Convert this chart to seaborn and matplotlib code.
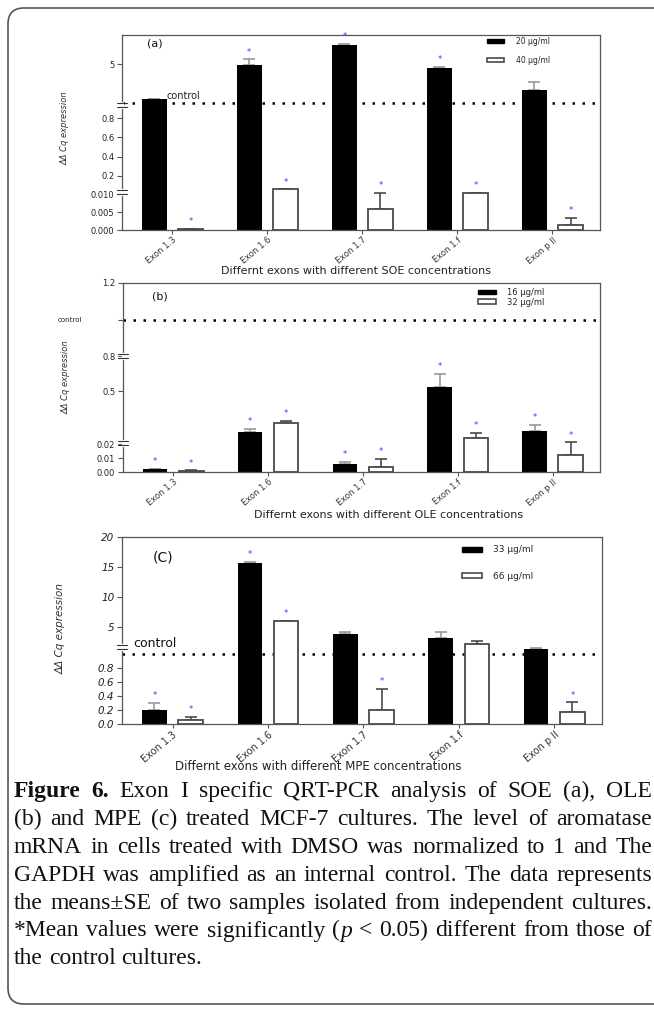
import numpy as np
import pandas as pd
import matplotlib
matplotlib.use("Agg")
import matplotlib.pyplot as plt
import seaborn as sns
from matplotlib.patches import Patch, FancyBboxPatch
from matplotlib.transforms import IdentityTransform

# ---------------- data ----------------
exons = ["Exon 1.3", "Exon 1.6", "Exon 1.7", "Exon 1.f", "Exon p II"]

soe_conc = ["20 µg/ml", "40 µg/ml"]
soe_20 = [1.4, 4.9, 7.0, 4.6, 2.35]
soe_20_se = [0.05, 0.6, 0.08, 0.1, 0.8]
soe_40 = [0.0002, 0.06, 0.0058, 0.0103, 0.0014]
soe_40_se = [0.0001, 0.001, 0.0045, 0.0002, 0.0019]
soe_20_sig = [False, True, True, True, False]
soe_40_sig = [True, True, True, True, True]

ole_conc = ["16 µg/ml", "32 µg/ml"]
ole_16 = [0.002, 0.156, 0.0057, 0.538, 0.165]
ole_16_se = [0.0003, 0.026, 0.0015, 0.11, 0.05]
ole_32 = [0.0008, 0.233, 0.0036, 0.105, 0.0121]
ole_32_se = [0.0003, 0.02, 0.0057, 0.043, 0.0095]
ole_16_sig = [True, True, True, True, True]
ole_32_sig = [True, True, True, True, True]

mpe_conc = ["33 µg/ml", "66 µg/ml"]
mpe_33 = [0.2, 15.7, 3.95, 3.26, 1.07]
mpe_33_se = [0.1, 0.2, 0.25, 1.0, 0.01]
mpe_66 = [0.06, 6.08, 0.2, 2.26, 0.17]
mpe_66_se = [0.04, 0.05, 0.3, 0.5, 0.14]
mpe_33_sig = [True, True, False, False, False]
mpe_66_sig = [True, True, True, False, True]

soe_ticks = [0, 0.005, 0.010, 0.2, 0.4, 0.6, 0.8, 5]
soe_ticklabels = ["0.000", "0.005", "0.010", "0.2", "0.4", "0.6", "0.8", "5"]
ole_ticks = [0, 0.01, 0.02, 0.5, 0.8, 1.0, 1.2]
ole_ticklabels = ["0.00", "0.01", "0.02", "0.5", "0.8", "", "1.2"]
mpe_ticks = [0, 0.2, 0.4, 0.6, 0.8, 5, 10, 15, 20]
mpe_ticklabels = ["0.0", "0.2", "0.4", "0.6", "0.8", "5", "10", "15", "20"]

# broken-axis segments: value knots -> relative pixel height
soe_knots_v = [0, 0.0105, 0.04, 0.924, 0.95, 8.0]
soe_knots_u = [0, 37.5, 38.7, 124, 126.5, 195.2]
ole_knots_v = [0, 0.02, 0.022, 0.08, 0.8, 1.2]
ole_knots_u = [0, 28, 30, 31, 116, 189]
mpe_knots_v = [0, 1.1, 1.85, 20]
mpe_knots_u = [0, 77, 77.5, 187]

caption_lines = [
    [[("Figure", "bold", "normal")], [("6.", "bold", "normal")], "Exon", "I", "specific",
     "QRT-PCR", "analysis", "of", "SOE", "(a),", "OLE"],
    "(b) and MPE (c) treated MCF-7 cultures. The level of aromatase".split(),
    "mRNA in cells treated with DMSO was normalized to 1 and The".split(),
    "GAPDH was amplified as an internal control. The data represents".split(),
    "the means±SE of two samples isolated from independent cultures.".split(),
    "*Mean values were significantly".split() + [[("(", "normal", "normal"), ("p", "normal", "italic")], "<", "0.05)"]
    + "different from those of".split(),
    "the control cultures.".split(),
]

# ---------------- style ----------------
sns.set_theme(style="white")
plt.rcParams["font.family"] = ["DejaVu Sans"]

W, H = 654, 1009
fig = plt.figure(figsize=(W / 100, H / 100), dpi=100)
fig.patch.set_facecolor("white")

STAR = "#3a3aff"
EDGE = "#4a4a4a"
SPINE = "#555555"


def make_scale(kv, ku):
    kv = list(kv); ku = list(ku)
    s0 = (ku[1] - ku[0]) / (kv[1] - kv[0])
    s1 = (ku[-1] - ku[-2]) / (kv[-1] - kv[-2])
    kv2 = np.array([kv[0] - 1e4] + kv + [kv[-1] + 1e4])
    ku2 = np.array([ku[0] - 1e4 * s0] + ku + [ku[-1] + 1e4 * s1])
    fwd = lambda y: np.interp(y, kv2, ku2)
    inv = lambda u: np.interp(u, ku2, kv2)
    return fwd, inv


def panel(box, concs, v1, e1, s1, v2, e2, s2, kv, ku, ticks, ticklabels, breaks,
          lay):
    l, t, r, b = box
    ax = fig.add_axes([l / W, 1 - b / H, (r - l) / W, (b - t) / H])
    df = pd.DataFrame({"exon": exons * 2,
                       "conc": [concs[0]] * 5 + [concs[1]] * 5,
                       "val": list(v1) + list(v2)})
    sns.barplot(data=df, x="exon", y="val", hue="conc", hue_order=concs,
                palette={concs[0]: "black", concs[1]: "white"}, errorbar=None,
                width=0.76, gap=0.32, legend=False, ax=ax, zorder=2)
    fwd, inv = make_scale(kv, ku)
    ax.set_yscale("function", functions=(fwd, inv))
    ax.set_ylim(kv[0], kv[-1])
    ax.set_xlim(-0.53, 4.5)

    for ci, (vals, ses, sig, ecol) in enumerate([(v1, e1, s1, "#9a9a9a"),
                                                 (v2, e2, s2, EDGE)]):
        bars = ax.containers[ci]
        xs = []
        for p in bars:
            if ci == 0:
                p.set_edgecolor("black"); p.set_linewidth(0)
            else:
                p.set_edgecolor(EDGE); p.set_linewidth(1.3)
            xs.append(p.get_x() + p.get_width() / 2)
        ax.errorbar(xs, vals, yerr=[np.zeros(len(vals)), ses], fmt="none",
                    ecolor=ecol, elinewidth=1.2, capsize=4.2, capthick=1.2, zorder=1.5)
        for x, v, s, g in zip(xs, vals, ses, sig):
            if g:
                ax.annotate("*", xy=(x, v + s), xytext=(0, lay["star_off"]),
                            textcoords="offset points", ha="center", va="bottom",
                            color=STAR, fontsize=6)

    ax.axhline(1.0, color="black", lw=1.8, ls=(0, (1, 3)), zorder=0.5)

    ax.set_yticks(ticks)
    ax.set_yticklabels(ticklabels)
    ax.tick_params(axis="y", left=True, direction="out", length=3.5, width=0.8,
                   color=SPINE, labelsize=lay["ytick_fs"], pad=2, labelcolor="#222")
    ax.tick_params(axis="x", bottom=True, direction="out", length=3, width=0.8,
                   color=SPINE, labelsize=lay["xtick_fs"], pad=1, labelcolor="#333")
    if lay.get("ytick_italic"):
        plt.setp(ax.get_yticklabels(), fontstyle="italic")
    plt.setp(ax.get_xticklabels(), rotation=40, ha="right", rotation_mode="anchor")
    for sp in ax.spines.values():
        sp.set_color(SPINE); sp.set_linewidth(0.9)

    ax.set_xlabel(lay["xlabel"], fontsize=lay["xlabel_fs"], color="#222")
    ax.xaxis.set_label_coords(*lay["xlabel_pos"])
    ax.set_ylabel("ΔΔ Cq expression", fontsize=lay["ylabel_fs"], color="#333",
                  fontstyle="italic")
    ax.yaxis.set_label_coords(*lay["ylabel_pos"])
    ax.text(*lay["tag_pos"], lay["tag"], transform=ax.transAxes, ha="center",
            va="center", fontsize=lay["tag_fs"], color="#111")

    # broken-axis marks
    h = b - t
    u0, u1 = fwd(kv[0]), fwd(kv[-1])
    for bv in breaks:
        fr = (fwd(bv) - u0) / (u1 - u0)
        d = 2.0 / h
        ax.plot([0, 0], [fr - d, fr + d], transform=ax.transAxes, color="white",
                lw=2.5, clip_on=False, zorder=5)
        for s in (-d, d):
            ax.plot([-0.011, 0.011], [fr + s, fr + s], transform=ax.transAxes,
                    color="#333", lw=0.8, clip_on=False, zorder=6)

    handles = [Patch(facecolor="black", edgecolor="black"),
               Patch(facecolor="white", edgecolor=EDGE, linewidth=1.2)]
    ax.legend(handles, concs, loc="upper left", bbox_to_anchor=lay["leg_pos"],
              frameon=False, fontsize=lay["leg_fs"], handlelength=2.2,
              handleheight=0.45, handletextpad=lay.get("leg_pad", 1.3),
              labelspacing=lay["leg_sp"], borderpad=0, borderaxespad=0)
    return ax


ax_a = panel((122, 35, 600, 230), soe_conc, soe_20, soe_20_se, soe_20_sig,
             soe_40, soe_40_se, soe_40_sig, soe_knots_v, soe_knots_u,
             soe_ticks, soe_ticklabels, [0.02, 0.935],
             dict(star_off=2, ytick_fs=6, xtick_fs=6, xlabel="Differnt exons with different SOE concentrations",
                  xlabel_fs=8, xlabel_pos=(0.49, -0.185), ylabel_fs=6, ylabel_pos=(-0.109, 0.52),
                  tag="(a)", tag_pos=(0.069, 0.954), tag_fs=8, leg_pos=(0.764, 0.99),
                  leg_fs=5.5, leg_sp=1.3, leg_pad=1.6))
ax_a.annotate("control", xy=(0.094, 1.0), xycoords=ax_a.get_yaxis_transform(),
              xytext=(0, 1.5), textcoords="offset points", ha="left", va="bottom",
              fontsize=7, color="#222")

ax_b = panel((123, 283, 600, 472), ole_conc, ole_16, ole_16_se, ole_16_sig,
             ole_32, ole_32_se, ole_32_sig, ole_knots_v, ole_knots_u,
             ole_ticks, ole_ticklabels, [0.021, 0.8],
             dict(star_off=2, ytick_fs=6, xtick_fs=6, xlabel="Differnt exons with different OLE concentrations",
                  xlabel_fs=8, xlabel_pos=(0.556, -0.201), ylabel_fs=6, ylabel_pos=(-0.111, 0.50),
                  tag="(b)", tag_pos=(0.078, 0.931), tag_fs=8, leg_pos=(0.744, 0.975),
                  leg_fs=6, leg_sp=0.1))
ax_b.text(-0.111, 1.0, "control", transform=ax_b.get_yaxis_transform(), ha="center",
          va="center", fontsize=5, color="#222")

ax_c = panel((122, 537, 602, 724), mpe_conc, mpe_33, mpe_33_se, mpe_33_sig,
             mpe_66, mpe_66_se, mpe_66_sig, mpe_knots_v, mpe_knots_u,
             mpe_ticks, mpe_ticklabels, [1.45],
             dict(star_off=2, ytick_fs=7.5, xtick_fs=7, ytick_italic=True,
                  xlabel="Differnt exons with different MPE concentrations",
                  xlabel_fs=8.5, xlabel_pos=(0.408, -0.19), ylabel_fs=7.5, ylabel_pos=(-0.117, 0.51),
                  tag="(C)", tag_pos=(0.085, 0.893), tag_fs=10, leg_pos=(0.708, 0.955),
                  leg_fs=6.5, leg_sp=1.9))
ax_c.annotate("control", xy=(0.023, 1.0), xycoords=ax_c.get_yaxis_transform(),
              xytext=(0, 3), textcoords="offset points", ha="left", va="bottom",
              fontsize=9, color="#111")

# ---------------- caption ----------------
renderer = fig.canvas.get_renderer()


def caption_line(words, y_base, x0, x1, size, justify=True):
    items, widths = [], []
    for w in words:
        segs = [(w, "normal", "normal")] if isinstance(w, str) else w
        arts, wsum = [], 0.0
        for txt, wt, st in segs:
            tt = fig.text(0, 0, txt, transform=IdentityTransform(), fontsize=size,
                          fontweight=wt, fontstyle=st, family="Liberation Serif",
                          va="baseline", ha="left", color="#111")
            bw = tt.get_window_extent(renderer).width
            arts.append((tt, bw)); wsum += bw
        items.append(arts); widths.append(wsum)
    total = sum(widths)
    if justify and len(words) > 1:
        space = (x1 - x0 - total) / (len(words) - 1)
    else:
        space = size * 100 / 72 * 0.25
    x = x0
    for arts, w in zip(items, widths):
        xx = x
        for tt, bw in arts:
            tt.set_position((xx, H - y_base)); xx += bw
        x += w + space


for i, line in enumerate(caption_lines):
    caption_line(line, 797 + 27.9 * i, 14, 652, 17.0, justify=(i < len(caption_lines) - 1))

border = FancyBboxPatch((8, H - 1004), W + 30, 996, boxstyle="round,pad=0,rounding_size=16",
                        transform=IdentityTransform(), facecolor="none", edgecolor="#555",
                        lw=1.2)
fig.add_artist(border)

fig.savefig("out.png", dpi=100)
